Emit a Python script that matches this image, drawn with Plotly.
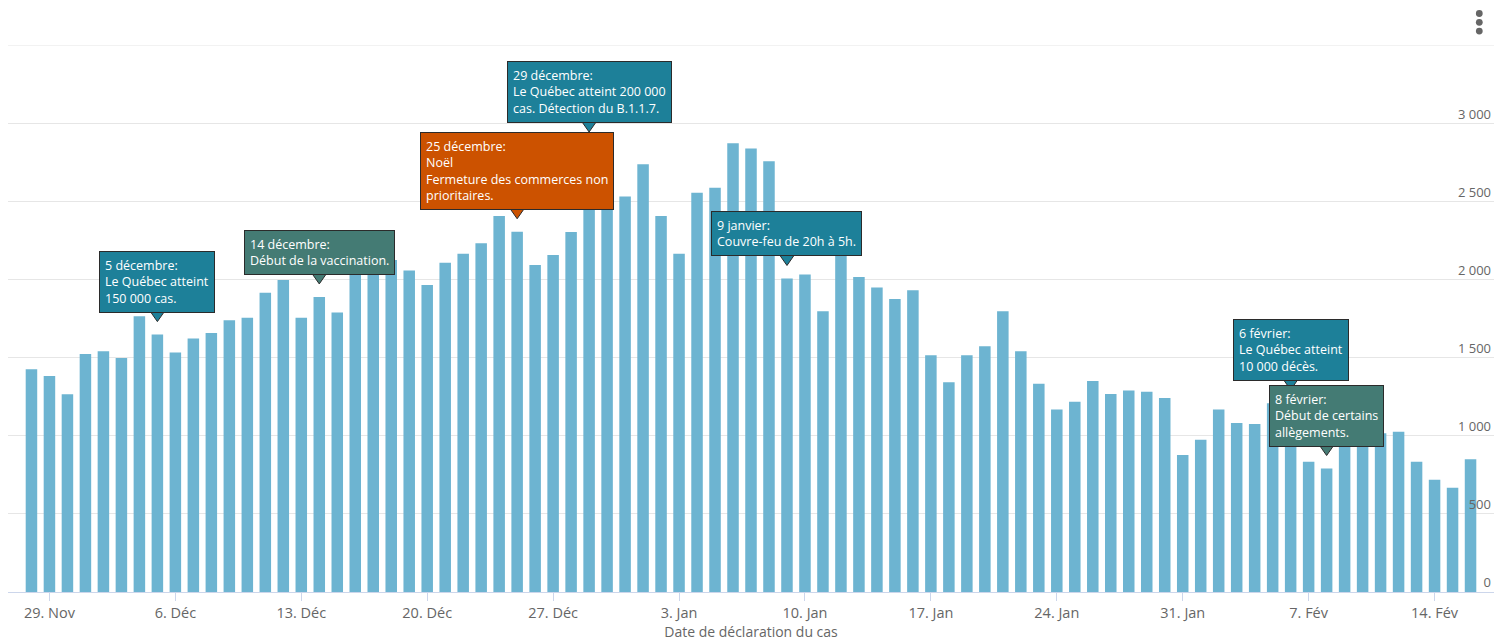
import pandas as pd
import plotly.graph_objects as go

# ---------------- data ----------------
start_date = "2020-11-28"
end_date = "2021-02-16"
dates = pd.date_range(start_date, end_date, freq="D")

cases = [
    1425, 1382, 1265, 1523, 1540, 1497, 1765, 1647, 1532, 1622,
    1658, 1739, 1754, 1914, 1997, 1754, 1888, 1788, 2100, 2180,
    2124, 2057, 1965, 2107, 2164, 2231, 2406, 2305, 2092, 2156,
    2303, 2860, 2700, 2531, 2737, 2406, 2164, 2555, 2587, 2872,
    2837, 2756, 2006, 2032, 1797, 2250, 2015, 1949, 1874, 1931,
    1515, 1342, 1515, 1572, 1797, 1540, 1333, 1167, 1218, 1350,
    1267, 1290, 1282, 1241, 876, 974, 1167, 1081, 1075, 1207,
    1210, 833, 790, 980, 1010, 1015, 1025, 833, 718, 667,
    850,
]

x_tick_dates = ["2020-11-29", "2020-12-06", "2020-12-13", "2020-12-20",
                "2020-12-27", "2021-01-03", "2021-01-10", "2021-01-17",
                "2021-01-24", "2021-01-31", "2021-02-07", "2021-02-14"]
x_tick_labels = ["29. Nov", "6. Déc", "13. Déc", "20. Déc", "27. Déc",
                 "3. Jan", "10. Jan", "17. Jan", "24. Jan", "31. Jan",
                 "7. Fév", "14. Fév"]

y_tick_vals = [0, 500, 1000, 1500, 2000, 2500, 3000]
y_tick_labels = ["0", "500", "1 000", "1 500", "2 000", "2 500", "3 000"]
y_max = 3500

event_dates = ["2020-12-05", "2020-12-14", "2020-12-25", "2020-12-29",
               "2021-01-09", "2021-02-08", "2021-02-06"]
event_texts = [
    "5 décembre:<br>Le Québec atteint<br>150 000 cas.",
    "14 décembre:<br>Début de la vaccination.",
    "25 décembre:<br>Noël<br>Fermeture des commerces non<br>prioritaires.",
    "29 décembre:<br>Le Québec atteint 200 000<br>cas. Détection du B.1.1.7.",
    "9 janvier:<br>Couvre-feu de 20h à 5h.",
    "8 février:<br>Début de certains<br>allègements.",
    "6 février:<br>Le Québec atteint<br>10 000 décès.",
]
event_kinds = ["blue", "green", "orange", "blue", "blue", "green", "blue"]

# ---------------- style ----------------
BAR = "#6db4d1"
BOX = {"blue": "#1d8099", "green": "#447b74", "orange": "#cc5200"}
FONT = "Open Sans, Lato, sans-serif"
GREY = "#666666"
GRID = "#e6e6e6"

fig = go.Figure()
fig.add_trace(go.Bar(x=dates, y=cases, marker=dict(color=BAR, line=dict(width=0)),
                     hoverinfo="x+y"))

value_by_date = {d.strftime("%Y-%m-%d"): v for d, v in zip(dates, cases)}

annotations = []
shapes = [dict(type="line", xref="paper", x0=0, x1=1, yref="y", y0=y_max, y1=y_max,
               line=dict(color=GRID, width=1), layer="below")]
for d, txt, kind in zip(event_dates, event_texts, event_kinds):
    v = value_by_date[d]
    col = BOX[kind]
    shapes.append(dict(
        type="path", xref="x", yref="y",
        xsizemode="pixel", ysizemode="pixel",
        xanchor=d, yanchor=v,
        path="M -7 23 L 0 13 L 7 23 Z",
        fillcolor=col, line=dict(color="#2b2b2b", width=1), layer="above",
    ))
    annotations.append(dict(
        x=d, y=v, xref="x", yref="y", text=txt, showarrow=False,
        xanchor="center", yanchor="bottom", yshift=22, align="left",
        font=dict(family=FONT, size=12.5, color="white"),
        bgcolor=col, bordercolor="#2b2b2b", borderwidth=1, borderpad=5,
    ))

# context-menu icon (three dots)
for dy in (8.8, 0, -8.8):
    shapes.append(dict(
        type="circle", xref="paper", yref="paper",
        xsizemode="pixel", ysizemode="pixel",
        xanchor=0.9901, yanchor=1.0415,
        x0=-3.4, x1=3.4, y0=dy - 3.4, y1=dy + 3.4,
        fillcolor="#666666", line=dict(width=0), layer="above",
    ))

start = pd.Timestamp(start_date) - pd.Timedelta(hours=31.3)
end = pd.Timestamp(end_date) + pd.Timedelta(hours=31.3)

fig.update_layout(
    width=1501, height=635,
    margin=dict(l=0, r=15, t=37, b=51),
    paper_bgcolor="white", plot_bgcolor="white",
    bargap=0.36, showlegend=False,
    font=dict(family=FONT, color=GREY),
    annotations=annotations, shapes=shapes,
    xaxis=dict(
        type="date", range=[start, end],
        tickvals=x_tick_dates, ticktext=x_tick_labels,
        ticks="outside", ticklen=8, tickcolor="#ccd6eb", tickwidth=1,
        showline=True, linecolor="#ccd6eb", linewidth=1,
        showgrid=False, zeroline=False,
        tickfont=dict(family=FONT, size=14.5, color=GREY),
        title=dict(text="Date de déclaration du cas", standoff=4,
                   font=dict(family=FONT, size=14, color=GREY)),
    ),
    yaxis=dict(
        range=[0, y_max], side="right",
        tickvals=y_tick_vals, ticktext=y_tick_labels,
        ticklabelposition="inside top",
        showgrid=True, gridcolor=GRID, gridwidth=1,
        zeroline=False, showline=False, ticks="",
        tickfont=dict(family=FONT, size=13, color=GREY),
    ),
)

fig.write_html("out.html")
